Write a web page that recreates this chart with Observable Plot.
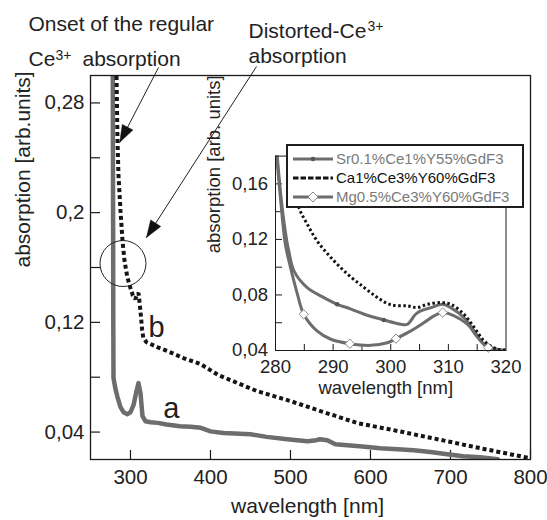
<!DOCTYPE html>
<html>
<head>
<meta charset="utf-8">
<script src="https://cdn.jsdelivr.net/npm/d3@7"></script>
<script src="https://cdn.jsdelivr.net/npm/@observablehq/plot@0.6"></script>
<style>
  body { margin: 0; background: #fff; }
  #fig { position: relative; width: 547px; height: 520px; font-family: "Liberation Sans", Arial, Helvetica, sans-serif; }
  #main, #inset { position: absolute; }
  #main { left: 0; top: 0; }
  #inset { left: 195px; top: 140px; }
  #legend {
    position: absolute; left: 286px; top: 144px; width: 238px; height: 64px;
    box-sizing: border-box; border: 2px solid #1e1e1e; background: #fff;
    font-size: 15px; line-height: 1;
  }
  #legend .row { position: absolute; left: 0; height: 18px; width: 100%; }
  #legend svg { position: absolute; left: 5px; top: 3px; }
  #legend span { position: absolute; left: 48px; top: 1px; white-space: nowrap; }
</style>
</head>
<body>
<div id="fig">
  <div id="main"></div>
  <div id="inset"></div>
  <div id="legend"></div>
</div>
<script>
const FONT = '"Liberation Sans", Arial, Helvetica, sans-serif';
const GRAY = "#6d6d6d";
const INK = "#1a1a1a";

// Main panel: absorption spectra, [wavelength nm, absorption]
const spectrumA = [
  [277.8, 0.33], [278.0, 0.25], [278.3, 0.18], [278.5, 0.12], [278.75, 0.0794],
  [281.25, 0.0713], [283.75, 0.0655], [287.5, 0.0582], [291.25, 0.0545], [296.25, 0.053],
  [300, 0.0545], [303.75, 0.0596], [307.5, 0.0699], [310, 0.0757], [312.5, 0.0684],
  [315, 0.0516], [318.75, 0.0479], [325, 0.0472], [334, 0.0467], [345, 0.0455],
  [362, 0.0443], [375, 0.0438], [388, 0.0431], [400, 0.0405], [416, 0.0394],
  [430, 0.039], [450, 0.0384], [470, 0.0365], [496, 0.0348], [521, 0.0333],
  [530, 0.0338], [537, 0.0348], [546, 0.0341], [556, 0.0311], [571, 0.0304],
  [590, 0.0295], [612, 0.0282], [634, 0.0275], [654, 0.0268], [675, 0.0255],
  [696, 0.0238], [716, 0.0224], [737, 0.0217], [759, 0.0202]
];
const spectrumB = [
  [282, 0.32], [282.5, 0.30], [283.75, 0.2525], [285, 0.227], [287.5, 0.2014],
  [290, 0.1795], [292.5, 0.165], [296, 0.153], [300, 0.145], [303, 0.1395],
  [306, 0.137], [308, 0.140], [310, 0.1415], [312.5, 0.128], [314.5, 0.115],
  [316, 0.1086], [320, 0.1055], [325, 0.1042], [335, 0.1015], [346, 0.0991],
  [366, 0.094], [387.5, 0.0896], [410, 0.0815], [458, 0.0699], [500, 0.0626],
  [537.5, 0.0553], [584, 0.0465], [634, 0.0408], [696, 0.0333], [737.5, 0.0282],
  [800, 0.0209]
];
const mainXTicks = [300, 400, 500, 600, 700, 800];
const mainYLabels = [0.04, 0.12, 0.2, 0.28];
const mainYTicks = [0.04, 0.08, 0.12, 0.16, 0.2, 0.24, 0.28];

// Inset: 280–320 nm detail
const sr = [
  [280.2, 0.185], [281.1, 0.145], [282.0, 0.118], [282.3, 0.112], [283.2, 0.0974],
  [285.5, 0.0853], [288, 0.079], [290.7, 0.0733], [293, 0.070], [295.4, 0.0661],
  [298.8, 0.062], [301.7, 0.0589], [302.9, 0.0589], [304.3, 0.0661], [305.2, 0.0685],
  [307, 0.0709], [309, 0.0733], [310.4, 0.0709], [312.7, 0.0637], [314.5, 0.054],
  [316.2, 0.0445], [318.5, 0.0409], [320, 0.040]
];
const ca = [
  [282.3, 0.19], [283.2, 0.163], [284.05, 0.1431], [285.5, 0.1311], [287.2, 0.119],
  [289.6, 0.107], [292.5, 0.095], [295.4, 0.0853], [297.7, 0.0781], [300, 0.0729],
  [302.9, 0.0721], [304.6, 0.0709], [306.4, 0.0733], [308.7, 0.0745], [310.4, 0.0733],
  [312.7, 0.0661], [314.5, 0.0565], [316.2, 0.0469], [318.5, 0.0409], [320, 0.0405]
];
const mg = [
  [280.1, 0.185], [280.9, 0.148], [281.7, 0.1167], [282.6, 0.0998], [283.8, 0.0806],
  [284.9, 0.0661], [287.2, 0.0541], [289.6, 0.0481], [292.9, 0.0449], [296.5, 0.0437],
  [299.4, 0.0456], [300.9, 0.0485], [303.5, 0.0541], [305.8, 0.0601], [307.5, 0.0649],
  [309, 0.0673], [311, 0.0649], [313.3, 0.0589], [315.1, 0.0493], [316.9, 0.042],
  [319.1, 0.0401], [320, 0.040]
];
const srMarkerAt = [290.7, 298.8];
const mgMarkerAt = [284.9, 292.9, 300.9, 309, 316.9];
const insetXLabels = [280, 290, 300, 310, 320];
const insetXTicks = [285, 290, 295, 300, 305, 310, 315];
const insetYLabels = [0.04, 0.08, 0.12, 0.16];
const insetYTicks = [0.06, 0.08, 0.1, 0.12, 0.14, 0.16];

const seriesNames = ["Sr0.1%Ce1%Y55%GdF3", "Ca1%Ce3%Y60%GdF3", "Mg0.5%Ce3%Y60%GdF3"];

// Annotation arrows (tail → head) and the highlight ring
const arrows = [
  {x1: 335, y1: 0.3058, x2: 286.6, y2: 0.2513},
  {x1: 457.5, y1: 0.3066, x2: 320, y2: 0.1819}
];
const ring = [{x: 290.6, y: 0.1629}];

const fmt = d => String(d).replace(".", ",");
const pick = (arr, xs) => arr.filter(d => xs.includes(d[0]));

// main geometry
const W = 547, H = 520, mt = 75, mr = 17, mb = 61, ml = 90;
const xDom = [250, 800], yDom = [0.02, 0.30];
const px = d3.scaleLinear().domain(xDom).range([ml, W - mr]);
const py = d3.scaleLinear().domain(yDom).range([H - mb, mt]);

// filled arrowhead triangle (tip at the arrow's end), built in screen space
// and mapped back into data space so it stays aligned with the shaft
function headPolygon(a, len = 17, half = 6) {
  const tx = px(a.x2), ty = py(a.y2);
  const dx = tx - px(a.x1), dy = ty - py(a.y1);
  const n = Math.hypot(dx, dy), ux = dx / n, uy = dy / n;
  const bx = tx - len * ux, by = ty - len * uy;
  const pts = [[tx, ty], [bx - half * uy, by + half * ux], [bx + half * uy, by - half * ux], [tx, ty]];
  return pts.map(([x, y]) => ({hx: px.invert(x), hy: py.invert(y)}));
}
const heads = arrows.map(a => headPolygon(a));

const note = (str, dx, dy, size = 21) =>
  Plot.text([str], {text: d => d, frameAnchor: "top-left", dx, dy, fontSize: size,
    textAnchor: "start", lineAnchor: "bottom", fill: "#222"});

const innerW = W - ml - mr, innerH = H - mt - mb;

const main = Plot.plot({
  width: W, height: H,
  marginTop: mt, marginRight: mr, marginBottom: mb, marginLeft: ml,
  x: {domain: xDom},
  y: {domain: yDom},
  style: {fontFamily: FONT, fontSize: "21px", color: "#222", background: "white", overflow: "visible"},
  marks: [
    Plot.ruleX(mainXTicks, {x: d => d, insetTop: innerH - 9, stroke: INK, strokeWidth: 1.2}),
    Plot.ruleY(mainYTicks, {y: d => d, insetRight: innerW - 10, stroke: INK, strokeWidth: 1.2}),
    Plot.axisX({ticks: mainXTicks, tickSize: 0, tickPadding: 10, label: null, fontSize: 20.5}),
    Plot.axisY({ticks: mainYLabels, tickSize: 0, tickPadding: 6, tickFormat: fmt, label: null, fontSize: 20.5}),
    Plot.text(["wavelength [nm]"], {text: d => d, frameAnchor: "bottom", dx: -3, dy: 53, lineAnchor: "bottom", fontSize: 21, fill: "#222"}),
    Plot.text(["absorption [arb.units]"], {text: d => d, frameAnchor: "left", dx: -67, rotate: -90, lineAnchor: "middle", fontSize: 21, fill: "#222"}),
    Plot.line(spectrumA, {x: d => d[0], y: d => d[1], stroke: GRAY, strokeWidth: 4.5, strokeLinejoin: "round", clip: true}),
    Plot.line(spectrumB, {x: d => d[0], y: d => d[1], stroke: "#151515", strokeWidth: 4, strokeDasharray: "4,3", strokeLinecap: "butt", strokeLinejoin: "miter", clip: true}),
    Plot.text(["a"], {text: d => d, x: 341, y: 0.0501, fontSize: 29, textAnchor: "start", lineAnchor: "bottom", fill: "#222"}),
    Plot.text(["b"], {text: d => d, x: 322.5, y: 0.1093, fontSize: 29, textAnchor: "start", lineAnchor: "bottom", fill: "#222"}),
    Plot.dot(ring, {x: "x", y: "y", r: 23, stroke: "#222", strokeWidth: 1, fill: "none"}),
    Plot.link(arrows, {x1: "x1", y1: "y1", x2: "x2", y2: "y2", stroke: "#222", strokeWidth: 1}),
    ...heads.map(h => Plot.line(h, {x: "hx", y: "hy", fill: "#111", stroke: "#111", strokeWidth: 0.5})),
    Plot.frame({stroke: INK, strokeWidth: 1.3}),
    note("Onset of the regular", -62, -45),
    note("Ce", -62, -10),
    note("3+", -35, -16, 14),
    note("absorption", -8, -10),
    note("Distorted-Ce", 158, -38),
    note("3+", 277, -45, 14),
    note("absorption", 158, -13)
  ]
});
document.getElementById("main").appendChild(main);

// inset geometry
const iW = 340, iH = 265, imt = 15.6, imr = 29.5, imb = 55, iml = 80;
const iInnerW = iW - iml - imr, iInnerH = iH - imt - imb;

const inset = Plot.plot({
  width: iW, height: iH,
  marginTop: imt, marginRight: imr, marginBottom: imb, marginLeft: iml,
  x: {domain: [280, 320]},
  y: {domain: [0.04, 0.18]},
  style: {fontFamily: FONT, fontSize: "18.5px", color: "#222", background: "transparent", overflow: "visible"},
  marks: [
    Plot.ruleX(insetXTicks, {x: d => d, insetTop: iInnerH - 6, stroke: INK, strokeWidth: 1}),
    Plot.ruleY(insetYTicks, {y: d => d, insetRight: iInnerW - 7, stroke: INK, strokeWidth: 1}),
    Plot.axisX({ticks: insetXLabels, tickSize: 0, tickPadding: 9, label: null}),
    Plot.axisY({ticks: insetYLabels, tickSize: 0, tickPadding: 7.5, tickFormat: fmt, label: null}),
    Plot.text(["wavelength [nm]"], {text: d => d, frameAnchor: "bottom", dx: -5, dy: 43, lineAnchor: "bottom", fontSize: 18.5, fill: "#222"}),
    Plot.text(["absorption [arb. units]"], {text: d => d, frameAnchor: "left", dx: -61, rotate: -90, lineAnchor: "middle", fontSize: 18.5, fill: "#222"}),
    Plot.line(sr, {x: d => d[0], y: d => d[1], stroke: GRAY, strokeWidth: 3, curve: "catmull-rom", clip: true}),
    Plot.line(mg, {x: d => d[0], y: d => d[1], stroke: GRAY, strokeWidth: 3, curve: "catmull-rom", clip: true}),
    Plot.line(ca, {x: d => d[0], y: d => d[1], stroke: "#141414", strokeWidth: 3, strokeDasharray: "2.5,2.5", strokeLinecap: "butt", curve: "catmull-rom", clip: true}),
    Plot.dot(pick(sr, srMarkerAt), {x: d => d[0], y: d => d[1], r: 2.3, fill: "#555", stroke: "none"}),
    Plot.dot(pick(mg, mgMarkerAt), {x: d => d[0], y: d => d[1], symbol: "diamond2", r: 4.2, fill: "white", stroke: "#888", strokeWidth: 1}),
    Plot.frame({stroke: INK, strokeWidth: 1})
  ]
});
document.getElementById("inset").appendChild(inset);

// legend for the inset series
const legend = document.getElementById("legend");
const samples = [
  `<line x1="0" y1="6" x2="40" y2="6" stroke="${GRAY}" stroke-width="3"/><circle cx="20" cy="6" r="2.3" fill="#555"/>`,
  `<line x1="0" y1="6" x2="40" y2="6" stroke="#141414" stroke-width="3" stroke-dasharray="5.5,2"/>`,
  `<line x1="0" y1="6" x2="40" y2="6" stroke="${GRAY}" stroke-width="3"/><path d="M20,1L25,6L20,11L15,6Z" fill="#fff" stroke="#888"/>`
];
const textColors = ["#7a7a7a", "#111", "#7a7a7a"];
const rowTops = [4, 23, 42];
seriesNames.forEach((name, i) => {
  const row = document.createElement("div");
  row.className = "row";
  row.style.top = rowTops[i] + "px";
  row.innerHTML = `<svg width="40" height="12">${samples[i]}</svg><span style="color:${textColors[i]}">${name}</span>`;
  legend.appendChild(row);
});
</script>
</body>
</html>
